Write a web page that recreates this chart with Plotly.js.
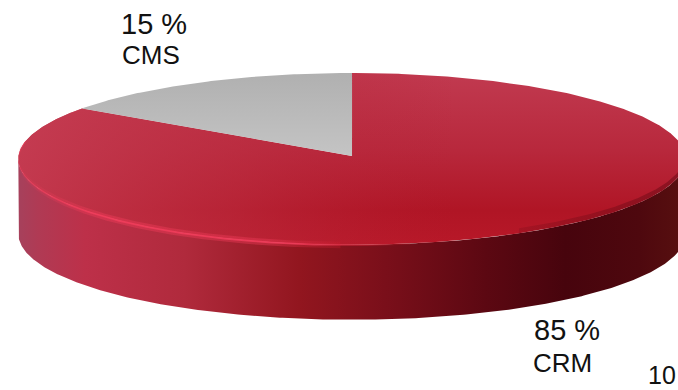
<!DOCTYPE html>
<html>
<head>
<meta charset="utf-8">
<script src="https://cdn.plot.ly/plotly-3.0.1.min.js"></script>
<style>html,body{margin:0;padding:0;background:#fff;overflow:hidden}#chart{width:678px;height:390px}</style>
</head>
<body>
<div id="chart"></div>
<script>
// Share of business by product line, drawn as a tilted pie with a solid rim.
const categories = ['CMS', 'CRM'];
const shares = [15, 85];
const pageNumber = '10';

// Disc proportions in unit space: y radius is 1, x radius is the aspect.
const aspect = 3.88;
const rimDepth = 0.872;
const apexLift = 0.035;

// Visible window of the unit space, keeps the disc slightly cut at the right edge.
const xRange = [-4.093, 3.79];
const yRange = [-2.69, 1.85];

function arc(fromDeg, toDeg, dy) {
  const xs = [], ys = [];
  const n = Math.max(2, Math.round(Math.abs(toDeg - fromDeg) * 2));
  for (let i = 0; i <= n; i++) {
    const t = (fromDeg + (toDeg - fromDeg) * i / n) * Math.PI / 180;
    xs.push(aspect * Math.sin(t));
    ys.push(Math.cos(t) - dy);
  }
  return [xs, ys];
}

function ring(a, b) {
  return [a[0].concat(b[0].slice().reverse()), a[1].concat(b[1].slice().reverse())];
}

function shape(xy, gradient) {
  return {
    type: 'scatter', mode: 'lines', x: xy[0], y: xy[1],
    fill: 'toself', line: {width: 0}, hoverinfo: 'skip', showlegend: false,
    fillgradient: gradient
  };
}

// The grey slice runs anticlockwise from twelve o'clock; the red one takes the rest.
const cmsDeg = shares[0] / (shares[0] + shares[1]) * 360;

const wall = ring(arc(90, 270, 0), arc(90, 270, rimDepth));
const crmArc = arc(0, 360 - cmsDeg, 0);
const crm = [[0].concat(crmArc[0], [0]), [apexLift].concat(crmArc[1], [apexLift])];
const cmsArc = arc(-cmsDeg, 0, 0);
const cms = [[0].concat(cmsArc[0], [0]), [apexLift].concat(cmsArc[1], [apexLift])];

const traces = [
  shape(wall, {
    type: 'horizontal', start: -3.88, stop: 3.88,
    colorscale: [[0, '#a6415c'], [0.03, '#b03a54'], [0.1, '#bd3049'], [0.25, '#b02a3c'],
                 [0.42, '#92161f'], [0.55, '#7a0f1a'], [0.7, '#5c0812'],
                 [0.82, '#47040d'], [0.93, '#4e080e'], [1, '#581010']]
  }),
  shape(crm, {
    type: 'vertical', start: 1, stop: -1,
    colorscale: [[0, '#c13a50'], [0.45, '#b8283c'], [0.8, '#b01525'], [1, '#b81828']]
  }),
  // Lighter wash over the left of the face, giving the diagonal sheen.
  shape(crm, {
    type: 'horizontal', start: -3.88, stop: 1.2,
    colorscale: [[0, 'rgba(198,62,84,0.85)'], [0.5, 'rgba(190,48,68,0.5)'], [1, 'rgba(180,30,50,0)']]
  }),
  shape(cms, {
    type: 'vertical', start: 1, stop: -0.05,
    colorscale: [[0, '#b0b0b0'], [1, '#c6c6c6']]
  }),
  // Soft shadow where the face meets the rim on the right.
  shape(ring(arc(88, 150, 0), arc(88, 150, -0.06)), {
    type: 'horizontal', start: 0.8, stop: 3.6,
    colorscale: [[0, 'rgba(110,10,22,0)'], [1, 'rgba(110,10,22,0.55)']]
  }),
  // Glow and bright highlight along the front-left lip.
  shape(ring(arc(182, 278, -0.035), arc(182, 278, 0.04)), {
    type: 'horizontal', start: -3.88, stop: 0,
    colorscale: [[0, 'rgba(235,60,90,0.1)'], [0.25, 'rgba(238,58,88,0.45)'],
                 [0.75, 'rgba(238,58,88,0.4)'], [1, 'rgba(200,24,40,0.25)']]
  }),
  shape(ring(arc(170, 282, -0.006), arc(170, 282, 0.014)), {
    type: 'horizontal', start: -3.88, stop: 0.6,
    colorscale: [[0, 'rgba(240,60,90,0.55)'], [0.2, 'rgba(240,60,90,0.9)'],
                 [0.72, 'rgba(240,60,90,0.85)'], [1, 'rgba(200,24,40,0.2)']]
  })
];

function note(text, cx, cy, size) {
  return {
    xref: 'paper', yref: 'paper', x: cx / 678, y: 1 - cy / 390,
    xanchor: 'center', yanchor: 'middle', showarrow: false, text: text,
    font: {family: 'Liberation Sans, Arial, sans-serif', size: size, color: '#111'}
  };
}

const annotations = [
  note(shares[0] + ' %', 154, 24, 29),
  note(categories[0], 151, 55, 26),
  note(shares[1] + ' %', 567, 330, 29),
  note(categories[1], 562, 363, 26),
  note(pageNumber, 662, 375, 25)
];

Plotly.newPlot('chart', traces, {
  width: 678, height: 390,
  margin: {l: 0, r: 0, t: 0, b: 0},
  paper_bgcolor: '#fff', plot_bgcolor: '#fff',
  xaxis: {range: xRange, visible: false, fixedrange: true},
  yaxis: {range: yRange, visible: false, fixedrange: true},
  showlegend: false,
  annotations: annotations
}, {displayModeBar: false, staticPlot: true});
</script>
</body>
</html>
